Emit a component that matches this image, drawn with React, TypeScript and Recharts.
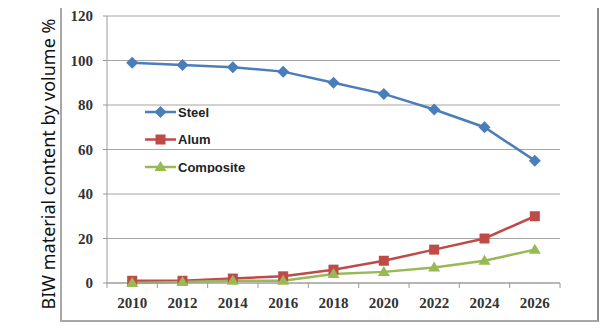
import React from 'react';
import { LineChart, Line, XAxis, YAxis, CartesianGrid, Legend, Label } from 'recharts';

const years = [2010, 2012, 2014, 2016, 2018, 2020, 2022, 2024, 2026];
const steel = [99, 98, 97, 95, 90, 85, 78, 70, 55];
const alum = [1, 1, 2, 3, 6, 10, 15, 20, 30];
const composite = [0, 0.5, 1, 1, 4, 5, 7, 10, 15];
const seriesNames = ['Steel', 'Alum', 'Composite'];
const xTicks = [2009, 2010, 2011, 2012, 2013, 2014, 2015, 2016, 2017, 2018, 2019, 2020, 2021, 2022, 2023, 2024, 2025, 2026, 2027];
const yTicks = [0, 20, 40, 60, 80, 100, 120];

const data = years.map((year, i) => ({
  year,
  Steel: steel[i],
  Alum: alum[i],
  Composite: composite[i],
}));

const COLORS: Record<string, string> = {
  Steel: '#4A7EBB',
  Alum: '#BE4B48',
  Composite: '#98B954',
};

const AXIS = '#9a9a9a';
const TICK_FONT = { fontFamily: '"Liberation Serif", serif', fontWeight: 700, fontSize: 15, fill: '#333' };

const Marker = ({ kind, cx, cy, color }: { kind: string; cx: number; cy: number; color: string }) => {
  if (kind === 'Steel') {
    return <polygon points={`${cx},${cy - 6} ${cx + 6},${cy} ${cx},${cy + 6} ${cx - 6},${cy}`} fill={color} />;
  }
  if (kind === 'Alum') {
    return <rect x={cx - 5} y={cy - 5} width={10} height={10} fill={color} />;
  }
  return <polygon points={`${cx},${cy - 6} ${cx + 6},${cy + 4} ${cx - 6},${cy + 4}`} fill={color} />;
};

const dotFor = (kind: string) => (props: any) => {
  const { cx, cy, index } = props;
  if (cx == null || cy == null) return <g key={index} />;
  return <Marker key={`${kind}-${index}`} kind={kind} cx={cx} cy={cy} color={COLORS[kind]} />;
};

const XTick = (props: any) => {
  const { x, y, payload } = props;
  if (payload.value % 2 === 1) {
    return <line x1={x} x2={x} y1={y} y2={y + 5} stroke={AXIS} strokeWidth={1} />;
  }
  return (
    <text x={x} y={y + 20} textAnchor="middle" dominantBaseline="central" {...TICK_FONT}>
      {payload.value}
    </text>
  );
};

// legend drawn in series order (Recharts sorts by name otherwise)
const renderLegend = () => (
  <svg width={120} height={70} style={{ display: 'block' }}>
    {seriesNames.map((name, i) => {
      const cy = 9 + i * 27.5;
      const color = COLORS[name];
      return (
        <g key={name}>
          <line x1={0} x2={31} y1={cy} y2={cy} stroke={color} strokeWidth={2.5} />
          <Marker kind={name} cx={15.5} cy={cy} color={color} />
          <text
            x={33}
            y={cy}
            dominantBaseline="central"
            fontFamily='"Liberation Sans", sans-serif'
            fontWeight={700}
            fontSize={13}
            fill="#222"
          >
            {name}
          </text>
        </g>
      );
    })}
  </svg>
);

const YLabel = () => (
  <text
    x={48}
    y={164}
    transform="rotate(-90, 48, 164)"
    textAnchor="middle"
    dominantBaseline="central"
    fontFamily='"Noto Sans", sans-serif'
    fontSize={18}
    fill="#111"
  >
    BIW material content by volume %
  </text>
);

const App: React.FC = () => {
  return (
    <div style={{ position: 'absolute', left: 0, top: 0, width: 600, height: 329, background: '#fff' }}>
      <div
        style={{
          position: 'absolute',
          left: 60,
          top: 8,
          width: 535,
          height: 312,
          borderLeft: '2px solid #a8a8a8',
          borderRight: '2px solid #8c8c8c',
          borderBottom: '2px solid #a8a8a8',
        }}
      />
      <LineChart width={600} height={329} data={data} margin={{ top: 16, right: 40, bottom: 16, left: 0 }}>
        <CartesianGrid vertical={false} stroke="#a6a6a6" strokeWidth={1.2} />
        <XAxis
          dataKey="year"
          type="number"
          domain={[2009, 2027]}
          ticks={xTicks}
          interval={0}
          tick={<XTick />}
          tickLine={false}
          tickSize={0}
          tickMargin={0}
          height={30}
          stroke={AXIS}
        />
        <YAxis
          domain={[0, 120]}
          ticks={yTicks}
          width={107}
          tickSize={4}
          tickMargin={10}
          stroke={AXIS}
          tick={TICK_FONT}
        >
          <Label content={<YLabel />} />
        </YAxis>
        <Legend
          layout="vertical"
          align="center"
          verticalAlign="middle"
          content={renderLegend}
          wrapperStyle={{ left: 145, top: 103, width: 120, height: 70 }}
        />
        <Line dataKey="Steel" stroke={COLORS.Steel} strokeWidth={2.5} dot={dotFor('Steel')} isAnimationActive={false} />
        <Line dataKey="Alum" stroke={COLORS.Alum} strokeWidth={2.5} dot={dotFor('Alum')} isAnimationActive={false} />
        <Line dataKey="Composite" stroke={COLORS.Composite} strokeWidth={2.5} dot={dotFor('Composite')} isAnimationActive={false} />
      </LineChart>
    </div>
  );
};

export default App;
